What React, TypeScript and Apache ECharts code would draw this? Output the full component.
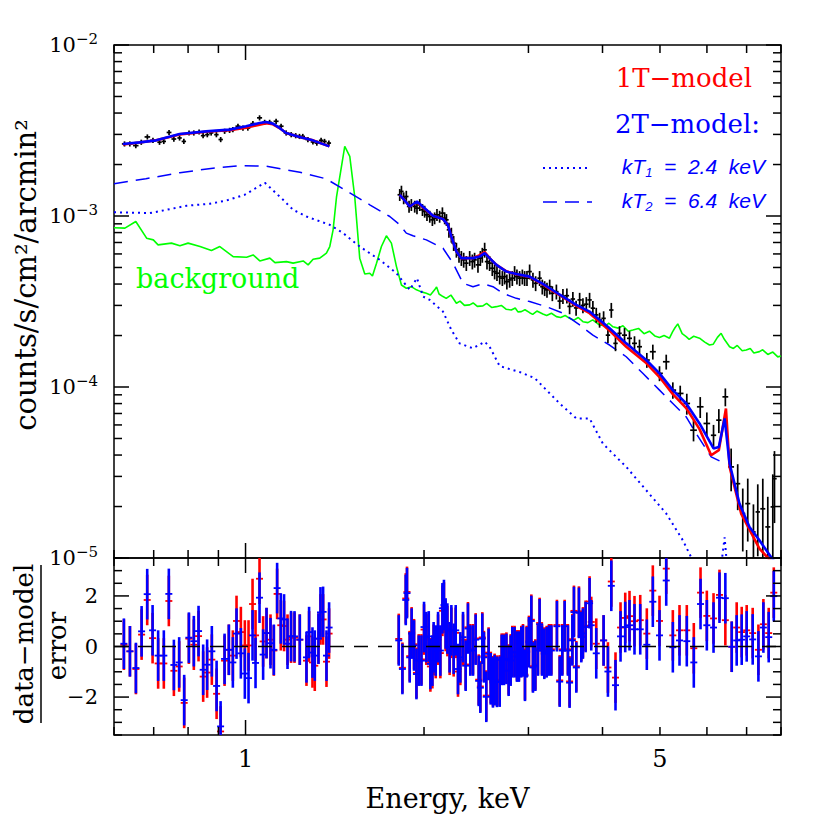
import React, { useEffect, useRef } from 'react';
import * as echarts from 'echarts';

const SERIF = '"DejaVu Serif", "Liberation Serif", serif';
const SANS = '"Liberation Sans", "DejaVu Sans", sans-serif';

const X_MIN = 0.6;
const X_MAX = 8;
const Y_MIN = 1e-5;
const Y_MAX = 1e-2;
const R_MIN = -3.5;
const R_MAX = 3.5;

// axis ticks
const xMajorTicks = [1];
const xMinorTicks = [0.6, 0.7, 0.8, 0.9, 2, 3, 4, 5, 6, 7, 8];
const xTickLabels = [1, 5];
const yMajorTicks = [1e-5, 1e-4, 1e-3, 1e-2];
const yMinorTicks = [
  2e-5, 3e-5, 4e-5, 5e-5, 6e-5, 7e-5, 8e-5, 9e-5,
  2e-4, 3e-4, 4e-4, 5e-4, 6e-4, 7e-4, 8e-4, 9e-4,
  2e-3, 3e-3, 4e-3, 5e-3, 6e-3, 7e-3, 8e-3, 9e-3,
];
const rMajorTicks = [-2, 0, 2];
const rMinorTicks = [-3.5, -3, -2.5, -1.5, -1, -0.5, 0.5, 1, 1.5, 2.5, 3, 3.5];

// spectrum data, low-energy part: [keV, counts/s/cm2/arcmin2, relative error]
const dataLow = [
  [0.625, 2.64e-3, 0.035], [0.638, 2.64e-3, 0.035], [0.653, 2.58e-3, 0.035], [0.667, 2.70e-3, 0.035],
  [0.683, 2.90e-3, 0.035], [0.698, 2.77e-3, 0.035], [0.716, 2.70e-3, 0.035], [0.728, 2.73e-3, 0.035],
  [0.743, 3.08e-3, 0.035], [0.757, 2.82e-3, 0.035], [0.774, 2.86e-3, 0.035], [0.787, 2.73e-3, 0.035],
  [0.803, 3.06e-3, 0.035], [0.818, 3.06e-3, 0.035], [0.835, 3.10e-3, 0.035], [0.848, 2.95e-3, 0.035],
  [0.862, 2.99e-3, 0.035], [0.875, 3.06e-3, 0.035], [0.893, 2.99e-3, 0.035], [0.908, 2.80e-3, 0.035],
  [0.922, 3.13e-3, 0.035], [0.940, 3.17e-3, 0.035], [0.952, 3.20e-3, 0.035], [0.971, 3.35e-3, 0.035],
  [0.990, 3.27e-3, 0.035], [1.009, 3.27e-3, 0.035], [1.029, 3.47e-3, 0.035], [1.056, 3.75e-3, 0.035],
  [1.077, 3.53e-3, 0.035], [1.098, 3.53e-3, 0.035], [1.126, 3.58e-3, 0.035], [1.148, 3.35e-3, 0.035],
  [1.171, 3.06e-3, 0.035], [1.194, 2.99e-3, 0.035], [1.215, 2.95e-3, 0.035], [1.233, 2.92e-3, 0.035],
  [1.249, 2.92e-3, 0.035], [1.274, 2.80e-3, 0.035], [1.299, 2.71e-3, 0.035], [1.319, 2.67e-3, 0.035],
  [1.341, 2.77e-3, 0.035], [1.359, 2.73e-3, 0.035], [1.382, 2.67e-3, 0.035],
];

// spectrum data, high-energy part
const dataHigh = [
  [1.820, 1.331e-3, 0.08], [1.832, 1.392e-3, 0.08], [1.848, 1.273e-3, 0.08], [1.867, 1.300e-3, 0.08],
  [1.887, 1.137e-3, 0.08], [1.904, 1.163e-3, 0.08], [1.929, 1.137e-3, 0.08], [1.946, 1.112e-3, 0.08],
  [1.967, 1.163e-3, 0.08], [1.988, 1.087e-3, 0.08], [2.005, 1.063e-3, 0.08], [2.023, 1.016e-3, 0.08],
  [2.045, 0.993e-3, 0.08], [2.066, 0.950e-3, 0.08], [2.084, 0.972e-3, 0.08], [2.103, 1.016e-3, 0.08],
  [2.125, 0.993e-3, 0.08], [2.148, 1.040e-3, 0.08], [2.167, 0.972e-3, 0.08], [2.182, 0.950e-3, 0.08],
  [2.203, 0.830e-3, 0.1], [2.224, 0.776e-3, 0.1], [2.244, 0.694e-3, 0.1], [2.268, 0.634e-3, 0.1],
  [2.291, 0.592e-3, 0.1], [2.312, 0.567e-3, 0.1], [2.333, 0.554e-3, 0.1], [2.357, 0.530e-3, 0.1],
  [2.388, 0.567e-3, 0.1], [2.413, 0.541e-3, 0.1], [2.434, 0.554e-3, 0.1], [2.466, 0.518e-3, 0.1],
  [2.489, 0.567e-3, 0.1], [2.508, 0.592e-3, 0.1], [2.531, 0.634e-3, 0.1], [2.554, 0.541e-3, 0.1],
  [2.580, 0.530e-3, 0.1], [2.607, 0.495e-3, 0.1], [2.631, 0.473e-3, 0.1], [2.655, 0.463e-3, 0.1],
  [2.683, 0.442e-3, 0.1], [2.711, 0.433e-3, 0.1], [2.735, 0.442e-3, 0.1], [2.759, 0.413e-3, 0.1],
  [2.789, 0.423e-3, 0.1], [2.818, 0.433e-3, 0.1], [2.843, 0.463e-3, 0.1], [2.869, 0.442e-3, 0.1],
  [2.899, 0.433e-3, 0.1], [2.930, 0.442e-3, 0.1], [2.956, 0.433e-3, 0.1], [2.983, 0.433e-3, 0.1],
  [3.014, 0.473e-3, 0.1], [3.053, 0.423e-3, 0.1], [3.085, 0.404e-3, 0.1], [3.133, 0.433e-3, 0.1],
  [3.166, 0.386e-3, 0.1], [3.195, 0.378e-3, 0.1], [3.224, 0.370e-3, 0.1], [3.258, 0.386e-3, 0.1],
  [3.292, 0.353e-3, 0.1], [3.344, 0.361e-3, 0.1], [3.387, 0.318e-3, 0.1], [3.430, 0.340e-3, 0.1],
  [3.483, 0.342e-3, 0.1], [3.520, 0.296e-3, 0.1], [3.565, 0.327e-3, 0.1], [3.610, 0.290e-3, 0.1],
  [3.660, 0.323e-3, 0.1], [3.707, 0.300e-3, 0.1], [3.756, 0.305e-3, 0.1], [3.804, 0.323e-3, 0.1],
  [3.853, 0.289e-3, 0.1], [3.904, 0.264e-3, 0.1], [3.955, 0.247e-3, 0.1], [4.017, 0.252e-3, 0.1],
  [4.085, 0.201e-3, 0.1], [4.139, 0.282e-3, 0.1], [4.207, 0.180e-3, 0.1], [4.273, 0.206e-3, 0.1],
  [4.357, 0.201e-3, 0.1], [4.442, 0.1926e-3, 0.1], [4.529, 0.180e-3, 0.1], [4.618, 0.172e-3, 0.1],
  [4.751, 0.1438e-3, 0.1], [4.863, 0.1608e-3, 0.1], [4.991, 0.1202e-3, 0.1], [5.123, 0.1405e-3, 0.1],
  [5.256, 0.0959e-3, 0.11], [5.409, 0.0917e-3, 0.11], [5.549, 0.0801e-3, 0.14], [5.696, 0.0559e-3, 0.14],
  [5.846, 0.0766e-3, 0.14], [5.998, 0.0612e-3, 0.16], [6.156, 0.0522e-3, 0.15], [6.284, 0.0640e-3, 0.16],
  [6.445, 0.0876e-3, 0.12], [6.592, 0.0341e-3, 0.28], [6.762, 0.0272e-3, 0.3], [6.896, 0.0182e-3, 0.4],
  [7.031, 0.0208e-3, 0.4], [7.188, 0.0142e-3, 0.45], [7.310, 0.0186e-3, 0.45], [7.454, 0.0194e-3, 0.5],
  [7.600, 0.0152e-3, 0.5], [7.749, 0.0199e-3, 0.55], [7.800, 0.0291e-3, 0.45],
];

// models, low-energy part: [keV, value]
const model1TLow = [
  [0.621, 2.62e-3], [0.663, 2.69e-3], [0.707, 2.77e-3], [0.774, 3.00e-3], [0.858, 3.11e-3],
  [0.940, 3.17e-3], [1.002, 3.28e-3], [1.056, 3.42e-3], [1.083, 3.49e-3], [1.112, 3.44e-3],
  [1.141, 3.27e-3], [1.171, 3.06e-3], [1.233, 2.90e-3], [1.298, 2.77e-3], [1.385, 2.553e-3],
];
const model2TLow = [
  [0.621, 2.637e-3], [0.663, 2.695e-3], [0.707, 2.769e-3], [0.774, 3.018e-3], [0.858, 3.126e-3],
  [0.940, 3.199e-3], [1.002, 3.345e-3], [1.056, 3.502e-3], [1.083, 3.550e-3], [1.112, 3.469e-3],
  [1.141, 3.273e-3], [1.171, 3.059e-3], [1.233, 2.899e-3], [1.298, 2.769e-3], [1.385, 2.553e-3],
];
// models, high-energy part
const model1THigh = [
  [1.820, 1.331e-3], [1.892, 1.137e-3], [1.946, 1.205e-3], [2.018, 1.080e-3], [2.071, 1.003e-3],
  [2.153, 0.959e-3], [2.194, 0.888e-3], [2.224, 0.758e-3], [2.268, 0.620e-3], [2.312, 0.567e-3],
  [2.419, 0.567e-3], [2.482, 0.590e-3], [2.531, 0.615e-3], [2.580, 0.567e-3], [2.649, 0.518e-3],
  [2.754, 0.475e-3], [2.862, 0.456e-3], [3.014, 0.440e-3], [3.173, 0.398e-3], [3.258, 0.374e-3],
  [3.430, 0.335e-3], [3.613, 0.298e-3], [3.804, 0.270e-3], [4.111, 0.214e-3], [4.386, 0.172e-3],
  [4.740, 0.138e-3], [4.991, 0.1143e-3], [5.256, 0.0908e-3], [5.536, 0.0753e-3], [5.830, 0.0567e-3],
  [6.100, 0.0399e-3], [6.284, 0.0427e-3], [6.460, 0.0749e-3], [6.552, 0.0341e-3], [6.853, 0.0182e-3],
  [7.357, 0.01134e-3], [7.647, 0.0098e-3], [8.0, 0.0075e-3],
];
const model2THigh = [
  [1.820, 1.331e-3], [1.892, 1.137e-3], [1.946, 1.216e-3], [2.018, 1.087e-3], [2.071, 1.003e-3],
  [2.153, 0.959e-3], [2.194, 0.888e-3], [2.224, 0.758e-3], [2.268, 0.620e-3], [2.312, 0.567e-3],
  [2.419, 0.567e-3], [2.482, 0.579e-3], [2.531, 0.606e-3], [2.580, 0.567e-3], [2.649, 0.518e-3],
  [2.754, 0.473e-3], [2.862, 0.458e-3], [3.014, 0.442e-3], [3.173, 0.401e-3], [3.258, 0.378e-3],
  [3.430, 0.338e-3], [3.613, 0.302e-3], [3.804, 0.276e-3], [4.111, 0.2205e-3], [4.386, 0.180e-3],
  [4.740, 0.1438e-3], [4.991, 0.1202e-3], [5.256, 0.0959e-3], [5.536, 0.0801e-3], [5.830, 0.0612e-3],
  [6.156, 0.0437e-3], [6.284, 0.0446e-3], [6.427, 0.0655e-3], [6.552, 0.0357e-3], [6.808, 0.0208e-3],
  [7.078, 0.0152e-3], [7.357, 0.0127e-3], [7.700, 0.0101e-3], [8.0, 0.0085e-3],
];

// 2T model components
const compKT1 = [
  [0.600, 1.051e-3], [0.626, 1.048e-3], [0.690, 1.040e-3], [0.736, 1.087e-3], [0.795, 1.148e-3],
  [0.871, 1.179e-3], [0.929, 1.233e-3], [0.997, 1.331e-3], [1.078, 1.565e-3], [1.157, 1.244e-3],
  [1.203, 1.087e-3], [1.267, 0.993e-3], [1.387, 0.888e-3], [1.461, 0.794e-3], [1.558, 0.663e-3],
  [1.684, 0.554e-3], [1.797, 0.463e-3], [1.892, 0.370e-3], [1.946, 0.433e-3], [1.993, 0.338e-3],
  [2.045, 0.323e-3], [2.153, 0.276e-3], [2.224, 0.2155e-3], [2.296, 0.180e-3], [2.419, 0.1683e-3],
  [2.531, 0.184e-3], [2.580, 0.172e-3], [2.683, 0.1325e-3], [2.899, 0.1223e-3], [3.073, 0.1128e-3],
  [3.387, 0.0801e-3], [3.613, 0.0655e-3], [3.804, 0.0655e-3], [4.005, 0.0467e-3], [4.386, 0.0341e-3],
  [4.740, 0.0249e-3], [5.123, 0.0182e-3], [5.464, 0.0127e-3], [5.644, 0.0101e-3], [5.830, 0.0079e-3],
  [6.250, 0.006e-3], [6.427, 0.0132e-3], [6.552, 0.006e-3],
];
const compKT2 = [
  [0.600, 1.544e-3], [0.679, 1.652e-3], [0.775, 1.791e-3], [0.881, 1.903e-3], [0.978, 1.968e-3],
  [1.082, 1.955e-3], [1.235, 1.803e-3], [1.366, 1.652e-3], [1.499, 1.367e-3], [1.620, 1.163e-3],
  [1.751, 0.993e-3], [1.820, 0.888e-3], [1.867, 0.794e-3], [1.916, 0.766e-3], [2.018, 0.725e-3],
  [2.153, 0.648e-3], [2.238, 0.530e-3], [2.327, 0.404e-3], [2.419, 0.386e-3], [2.514, 0.401e-3],
  [2.614, 0.386e-3], [2.717, 0.353e-3], [2.862, 0.330e-3], [3.014, 0.316e-3], [3.216, 0.295e-3],
  [3.430, 0.270e-3], [3.660, 0.2305e-3], [3.853, 0.201e-3], [4.111, 0.176e-3], [4.386, 0.1503e-3],
  [4.677, 0.1202e-3], [4.991, 0.0959e-3], [5.256, 0.0801e-3], [5.536, 0.0669e-3], [5.754, 0.0535e-3],
  [6.100, 0.039e-3], [6.300, 0.037e-3],
];

// background spectrum
const background = [
  [0.600, 0.853e-3], [0.626, 0.849e-3], [0.653, 0.929e-3], [0.681, 0.742e-3], [0.699, 0.725e-3],
  [0.712, 0.678e-3], [0.750, 0.694e-3], [0.775, 0.669e-3], [0.800, 0.694e-3], [0.838, 0.663e-3],
  [0.876, 0.628e-3], [0.905, 0.663e-3], [0.953, 0.579e-3], [1.004, 0.574e-3], [1.030, 0.592e-3],
  [1.057, 0.546e-3], [1.099, 0.567e-3], [1.121, 0.534e-3], [1.172, 0.541e-3], [1.203, 0.530e-3],
  [1.251, 0.546e-3], [1.275, 0.518e-3], [1.300, 0.559e-3], [1.334, 0.567e-3], [1.369, 0.606e-3],
  [1.387, 0.663e-3], [1.405, 0.830e-3], [1.424, 1.300e-3], [1.470, 2.553e-3], [1.499, 2.232e-3],
  [1.528, 1.300e-3], [1.558, 0.567e-3], [1.589, 0.458e-3], [1.620, 0.463e-3], [1.637, 0.446e-3],
  [1.663, 0.530e-3], [1.695, 0.663e-3], [1.728, 0.766e-3], [1.762, 0.694e-3], [1.797, 0.506e-3],
  [1.832, 0.395e-3], [1.867, 0.378e-3], [1.904, 0.386e-3], [1.942, 0.370e-3], [1.980, 0.360e-3],
  [2.018, 0.353e-3], [2.050, 0.345e-3], [2.084, 0.370e-3], [2.100, 0.385e-3], [2.120, 0.350e-3],
  [2.153, 0.338e-3], [2.180, 0.330e-3], [2.220, 0.345e-3], [2.268, 0.309e-3], [2.300, 0.318e-3],
  [2.340, 0.300e-3], [2.388, 0.302e-3], [2.420, 0.310e-3], [2.460, 0.296e-3], [2.514, 0.298e-3],
  [2.550, 0.308e-3], [2.600, 0.292e-3], [2.649, 0.295e-3], [2.700, 0.300e-3], [2.750, 0.285e-3],
  [2.807, 0.282e-3], [2.850, 0.290e-3], [2.880, 0.275e-3], [2.918, 0.276e-3], [2.960, 0.283e-3],
  [3.014, 0.272e-3], [3.050, 0.266e-3], [3.100, 0.278e-3], [3.173, 0.267e-3], [3.220, 0.262e-3],
  [3.280, 0.270e-3], [3.344, 0.258e-3], [3.400, 0.255e-3], [3.460, 0.262e-3], [3.520, 0.252e-3],
  [3.580, 0.246e-3], [3.640, 0.255e-3], [3.707, 0.241e-3], [3.780, 0.238e-3], [3.850, 0.247e-3],
  [3.955, 0.2305e-3], [4.050, 0.228e-3], [4.100, 0.236e-3], [4.165, 0.225e-3], [4.250, 0.221e-3],
  [4.330, 0.228e-3], [4.420, 0.212e-3], [4.500, 0.2155e-3], [4.600, 0.220e-3], [4.700, 0.205e-3],
  [4.800, 0.212e-3], [4.900, 0.199e-3], [4.991, 0.195e-3], [5.080, 0.200e-3], [5.188, 0.193e-3],
  [5.250, 0.210e-3], [5.300, 0.222e-3], [5.358, 0.234e-3], [5.450, 0.205e-3], [5.536, 0.197e-3],
  [5.600, 0.190e-3], [5.700, 0.198e-3], [5.830, 0.193e-3], [5.950, 0.183e-3], [6.060, 0.176e-3],
  [6.150, 0.178e-3], [6.250, 0.195e-3], [6.340, 0.206e-3], [6.420, 0.190e-3], [6.552, 0.172e-3],
  [6.650, 0.168e-3], [6.750, 0.175e-3], [6.880, 0.163e-3], [6.990, 0.1645e-3], [7.100, 0.168e-3],
  [7.200, 0.158e-3], [7.357, 0.161e-3], [7.450, 0.165e-3], [7.600, 0.155e-3], [7.750, 0.160e-3],
  [7.900, 0.150e-3], [8.000, 0.152e-3],
];

// residuals (data-model)/error
const residualE = [
  0.6235, 0.6383, 0.6533, 0.6679, 0.6826, 0.6970, 0.7122, 0.7281, 0.7424, 0.7571,
  0.7728, 0.7880, 0.8025, 0.8181, 0.8332, 0.8483, 0.8614, 0.8773, 0.8937, 0.9077,
  0.9218, 0.9372, 0.9519, 0.9656, 0.9820, 0.9973, 1.0117, 1.0276, 1.0396, 1.0558,
  1.0707, 1.0849, 1.1018, 1.1161, 1.1305, 1.1467, 1.1614, 1.1771, 1.1934, 1.2095,
  1.2345, 1.2670, 1.2799, 1.2968, 1.3085, 1.3274, 1.3378, 1.3515, 1.3694, 1.3833,
  1.813, 1.839, 1.863, 1.872, 1.892, 1.906, 1.924, 1.942, 1.959, 1.980,
  2.000, 2.018, 2.037, 2.050, 2.066, 2.076, 2.093, 2.112, 2.131, 2.148,
  2.161, 2.175, 2.190, 2.209, 2.224, 2.244, 2.262, 2.282, 2.303, 2.327,
  2.351, 2.372, 2.394, 2.419, 2.444, 2.473, 2.489, 2.508, 2.524, 2.547,
  2.570, 2.591, 2.614, 2.631, 2.655, 2.683, 2.704, 2.728, 2.754, 2.778,
  2.800, 2.818, 2.843, 2.869, 2.891, 2.918, 2.937, 2.960, 2.979, 3.006,
  3.034, 3.053, 3.082, 3.113, 3.133, 3.162, 3.191, 3.220, 3.249, 3.279,
  3.351, 3.387, 3.422, 3.453, 3.497, 3.520, 3.558, 3.580, 3.613, 3.650,
  3.684, 3.707, 3.746, 3.804,
  3.829, 3.904, 4.017, 4.085, 4.139, 4.207, 4.290, 4.369, 4.442, 4.529,
  4.631, 4.751, 4.863, 4.991, 5.123, 5.256, 5.394, 5.549, 5.702, 5.853,
  5.998, 6.156, 6.300, 6.445, 6.607, 6.735, 6.868, 7.002, 7.167, 7.328,
  7.471, 7.627, 7.779,
];
const residual2T = [
  0.11, -0.19, -0.85, 0.60, 2.07, 0.64, -0.36, -0.36, 2.08, -0.73,
  -0.63, -2.12, 0.35, 0.21, 0.61, -0.92, -0.72, -0.19, -1.56, -3.16,
  -0.49, -0.13, -0.63, 0.51, -0.27, -1.07, -1.25, 0.44, -0.65, 1.93,
  -0.32, 0.53, 0.13, -0.13, 2.31, 1.11, 1.07, 0.11, 0.41, 0.40,
  0.27, -0.43, 0.57, -0.24, -0.36, 0.31, 1.35, 1.37, -0.36, 0.75,
  0.24, -0.89, 1.84, 2.11, -0.43, 0.51, 0.04, -1.09, -0.56, -0.56,
  0.77, 0.37, 0.40, -0.69, -0.56, -0.03, -0.16, 0.37, -0.16, 1.51,
  1.64, 0.91, 0.71, -0.03, 0.64, -0.09, 0.64, -0.89, -0.43, 0.37,
  -0.76, 0.71, -0.16, -0.16, 0.27, -1.36, -1.63, 0.31, -0.43, -1.99,
  -0.29, -1.30, -1.42, -1.33, -1.40, -1.39, -0.53, -0.53, -0.49, -0.96,
  -0.56, -0.23, -0.23, -0.40, -0.40, -0.23, -0.16, -1.16, -0.23, 0.17,
  1.01, -0.83, -0.76, -0.16, 0.88, -0.16, -0.29, -0.23, -0.16, -0.16,
  0.80, -1.39, -0.16, 0.80, -0.16, -1.43, 0.24, 1.36, -0.83, 1.33,
  0.37, 0.51, 0.77, 1.71,
  0.84, -0.27, 0.24, -0.99, 2.40, -1.53, 0.40, 0.77, 0.84, 0.68,
  0.68, 0.07, 1.77, 0.44, 2.61, -0.03, 0.24, 0.21, -0.63, 1.68,
  0.84, 0.75, 1.93, 1.91, -0.01, 0.24, 0.27, 0.40, 0.28, -0.39,
  0.75, 0.37, 1.99,
];
const residual1T = [
  0.07, -0.19, -0.89, 0.47, 1.84, 0.33, -0.67, -0.67, 1.80, -0.96,
  -0.79, -2.23, 0.31, 0.07, 0.41, -1.19, -1.03, -0.52, -1.87, -3.36,
  -0.56, -0.13, -0.36, 1.01, 0.57, 0.04, 0.04, 1.68, 0.44, 2.68,
  0.20, 0.53, 0.27, -0.16, 2.08, 0.84, 0.81, 0.27, 0.35, 0.35,
  0.27, -0.56, 0.40, -0.63, -0.76, 0.31, 1.07, 1.07, -0.60, 0.51,
  0.30, -0.84, 1.90, 2.16, -0.38, 0.56, 0.09, -1.04, -0.51, -0.51,
  0.67, 0.27, 0.30, -0.79, -0.66, -0.13, -0.26, 0.27, -0.26, 1.41,
  1.54, 0.81, 0.61, -0.13, 0.54, -0.19, 0.54, -0.99, -0.53, 0.27,
  -0.71, 0.76, -0.11, -0.11, 0.32, -1.31, -1.58, 0.36, -0.38, -1.94,
  -0.24, -1.25, -1.37, -1.28, -1.35, -1.34, -0.48, -0.48, -0.44, -0.91,
  -0.51, -0.18, -0.18, -0.35, -0.35, -0.18, -0.11, -1.11, -0.18, 0.22,
  1.06, -0.78, -0.71, -0.11, 0.93, -0.11, -0.24, -0.18, -0.11, -0.11,
  0.85, -1.34, -0.11, 0.85, -0.11, -1.38, 0.29, 1.41, -0.78, 1.38,
  0.42, 0.56, 0.82, 1.78,
  0.97, 0.11, 0.24, -0.83, 2.57, -1.23, 0.75, 1.13, 1.20, 1.00,
  1.04, 0.51, 2.21, 1.01, 3.08, 0.44, 0.64, 0.64, -0.07, 2.13,
  1.21, 1.11, 2.04, 1.04, -0.01, 0.75, 0.57, 0.64, 0.53, -0.13,
  0.88, 0.53, 2.13,
];

const RED = '#ff0000';
const BLUE = '#0000ff';
const GREEN = '#00ff00';

function tickSeries(gi: number, yLo: number, yHi: number, yMaj: number[], yMin: number[]) {
  return {
    type: 'custom',
    xAxisIndex: gi,
    yAxisIndex: gi,
    silent: true,
    clip: false,
    z: 20,
    data: [[1, gi === 0 ? 1e-3 : 0]],
    renderItem: (params: any, api: any) => {
      const bl = api.coord([X_MIN, yLo]);
      const tr = api.coord([X_MAX, yHi]);
      const ch: any[] = [];
      const add = (x1: number, y1: number, x2: number, y2: number) =>
        ch.push({ type: 'line', shape: { x1, y1, x2, y2 }, style: { stroke: '#000', lineWidth: 1.5 } });
      const MAJ = 15;
      const MIN = 8;
      xMajorTicks.forEach((t) => {
        const x = api.coord([t, yLo])[0];
        add(x, bl[1], x, bl[1] - MAJ);
        add(x, tr[1], x, tr[1] + MAJ);
      });
      xMinorTicks.forEach((t) => {
        const x = api.coord([t, yLo])[0];
        add(x, bl[1], x, bl[1] - MIN);
        add(x, tr[1], x, tr[1] + MIN);
      });
      yMaj.forEach((t) => {
        const y = api.coord([X_MIN, t])[1];
        add(bl[0], y, bl[0] + MAJ, y);
        add(tr[0], y, tr[0] - MAJ, y);
      });
      yMin.forEach((t) => {
        const y = api.coord([X_MIN, t])[1];
        add(bl[0], y, bl[0] + MIN, y);
        add(tr[0], y, tr[0] - MIN, y);
      });
      return { type: 'group', children: ch };
    },
  };
}

function crossSeries(points: number[][]) {
  return {
    type: 'custom',
    xAxisIndex: 0,
    yAxisIndex: 0,
    clip: true,
    z: 3,
    data: points,
    renderItem: (params: any, api: any) => {
      const i = params.dataIndex;
      const e = api.value(0);
      const v = api.value(1);
      const r = api.value(2);
      const c = api.coord([e, v]);
      const hi = api.coord([e, v * (1 + r)]);
      const lo = api.coord([e, v * (1 - r)]);
      const d: number[] = [];
      if (i > 0) d.push(Math.abs(c[0] - api.coord([points[i - 1][0], v])[0]));
      if (i < points.length - 1) d.push(Math.abs(api.coord([points[i + 1][0], v])[0] - c[0]));
      const hw = Math.max(2.2, Math.min(5, Math.min(...d) / 2));
      return {
        type: 'group',
        children: [
          { type: 'line', shape: { x1: c[0], y1: hi[1], x2: c[0], y2: lo[1] }, style: { stroke: '#000', lineWidth: 1.7 } },
          { type: 'line', shape: { x1: c[0] - hw, y1: c[1], x2: c[0] + hw, y2: c[1] }, style: { stroke: '#000', lineWidth: 1.7 } },
        ],
      };
    },
  };
}

function residualSeries(values: number[], color: string, z: number) {
  return {
    type: 'custom',
    xAxisIndex: 1,
    yAxisIndex: 1,
    clip: true,
    z,
    data: residualE.map((e, i) => [e, values[i]]),
    renderItem: (params: any, api: any) => {
      const e = api.value(0);
      const r = api.value(1);
      const c = api.coord([e, r]);
      const hi = api.coord([e, r + 1]);
      const lo = api.coord([e, r - 1]);
      return {
        type: 'group',
        children: [
          { type: 'line', shape: { x1: c[0], y1: hi[1], x2: c[0], y2: lo[1] }, style: { stroke: color, lineWidth: 2.6 } },
          { type: 'line', shape: { x1: c[0] - 3.5, y1: c[1], x2: c[0] + 3.5, y2: c[1] }, style: { stroke: color, lineWidth: 1.8 } },
        ],
      };
    },
  };
}

function lineSeries(data: number[][], color: string, width: number, type: any, z: number) {
  return {
    type: 'line',
    xAxisIndex: 0,
    yAxisIndex: 0,
    data,
    showSymbol: false,
    symbol: 'none',
    clip: true,
    z,
    silent: true,
    lineStyle: { color, width, type },
  };
}

function buildOption() {
  const baseAxis = {
    axisLine: { show: false },
    axisTick: { show: false },
    splitLine: { show: false },
  };
  const kTRich = {
    i: { fontSize: 21, fontStyle: 'italic', fontFamily: SANS, fill: BLUE, color: BLUE, lineHeight: 26 },
    s: { fontSize: 13, fontStyle: 'italic', fontFamily: SANS, fill: BLUE, color: BLUE, lineHeight: 12, verticalAlign: 'bottom' },
  };
  return {
    animation: false,
    backgroundColor: '#ffffff',
    grid: [
      { left: 114, top: 45, width: 667, height: 513, show: true, borderColor: '#000', borderWidth: 1.5, backgroundColor: 'transparent' },
      { left: 114, top: 558, width: 667, height: 177, show: true, borderColor: '#000', borderWidth: 1.5, backgroundColor: 'transparent' },
    ],
    xAxis: [
      { ...baseAxis, type: 'log', gridIndex: 0, min: X_MIN, max: X_MAX, logBase: 10, axisLabel: { show: false } },
      {
        ...baseAxis,
        type: 'log',
        gridIndex: 1,
        min: X_MIN,
        max: X_MAX,
        logBase: 10,
        axisLabel: {
          customValues: xTickLabels,
          fontSize: 24,
          fontFamily: SERIF,
          color: '#000',
          margin: 12,
          formatter: (v: number) => String(Math.round(v * 100) / 100),
        },
        name: 'Energy, keV',
        nameLocation: 'middle',
        nameGap: 50,
        nameTextStyle: { fontSize: 27, fontFamily: SERIF, color: '#000' },
      },
    ],
    yAxis: [
      {
        ...baseAxis,
        type: 'log',
        gridIndex: 0,
        min: Y_MIN,
        max: Y_MAX,
        logBase: 10,
        axisLabel: {
          margin: 16,
          formatter: (v: number) => `{a|10}{b|−${Math.round(-Math.log10(v))}}`,
          rich: {
            a: { fontSize: 21, fontFamily: SERIF, color: '#000', lineHeight: 28 },
            b: { fontSize: 15, fontFamily: SERIF, color: '#000', lineHeight: 14, verticalAlign: 'top' },
          },
        },
      },
      {
        ...baseAxis,
        type: 'value',
        gridIndex: 1,
        min: R_MIN,
        max: R_MAX,
        interval: 0.5,
        axisLabel: {
          margin: 16,
          fontSize: 21,
          fontFamily: SERIF,
          color: '#000',
          formatter: (v: number) => {
            const r = Math.round(v);
            if (Math.abs(v - r) > 1e-6 || r % 2 !== 0 || Math.abs(r) > 3) return '';
            return r < 0 ? '−' + -r : String(r);
          },
        },
      },
    ],
    series: [
      lineSeries(background, GREEN, 1.6, 'solid', 2),
      lineSeries(compKT2, BLUE, 1.5, [14, 8], 2),
      lineSeries(compKT1, BLUE, 2, [2, 4], 2),
      crossSeries(dataLow),
      crossSeries(dataHigh),
      lineSeries(model1TLow, RED, 2.6, 'solid', 4),
      lineSeries(model1THigh, RED, 2.6, 'solid', 4),
      lineSeries(model2TLow, BLUE, 2.6, 'solid', 5),
      lineSeries(model2THigh, BLUE, 2.6, 'solid', 5),
      residualSeries(residual1T, RED, 3),
      residualSeries(residual2T, BLUE, 4),
      {
        type: 'line',
        xAxisIndex: 1,
        yAxisIndex: 1,
        data: [[X_MIN, 0], [X_MAX, 0]],
        symbol: 'none',
        silent: true,
        z: 6,
        lineStyle: { color: '#000', width: 1.5, type: [14, 10] },
      },
      tickSeries(0, Y_MIN, Y_MAX, yMajorTicks, yMinorTicks),
      tickSeries(1, R_MIN, R_MAX, rMajorTicks, rMinorTicks),
    ],
    graphic: [
      {
        type: 'text',
        x: 26,
        y: 275,
        rotation: Math.PI / 2,
        style: { text: 'counts/s/cm²/arcmin²', fill: '#000', font: `29px ${SERIF}`, align: 'center', verticalAlign: 'middle', textAlign: 'center', textVerticalAlign: 'middle' },
      },
      {
        type: 'text',
        x: 24,
        y: 644,
        rotation: Math.PI / 2,
        style: { text: 'data−model', fill: '#000', font: `26px ${SERIF}`, align: 'center', verticalAlign: 'middle', textAlign: 'center', textVerticalAlign: 'middle' },
      },
      { type: 'line', shape: { x1: 41, y1: 565, x2: 41, y2: 723 }, style: { stroke: '#000', lineWidth: 1.5 } },
      {
        type: 'text',
        x: 57,
        y: 646,
        rotation: Math.PI / 2,
        style: { text: 'error', fill: '#000', font: `26px ${SERIF}`, align: 'center', verticalAlign: 'middle', textAlign: 'center', textVerticalAlign: 'middle' },
      },
      {
        type: 'text',
        x: 136,
        y: 278,
        style: { text: 'background', fill: GREEN, font: `27px ${SERIF}`, align: 'left', verticalAlign: 'middle', textAlign: 'left', textVerticalAlign: 'middle' },
      },
      {
        type: 'text',
        x: 752,
        y: 78,
        style: { text: '1T−model', fill: RED, font: `26px ${SERIF}`, align: 'right', verticalAlign: 'middle', textAlign: 'right', textVerticalAlign: 'middle' },
      },
      {
        type: 'text',
        x: 760,
        y: 124,
        style: { text: '2T−model:', fill: BLUE, font: `26px ${SERIF}`, align: 'right', verticalAlign: 'middle', textAlign: 'right', textVerticalAlign: 'middle' },
      },
      { type: 'line', shape: { x1: 543, y1: 168, x2: 588, y2: 168 }, style: { stroke: BLUE, lineWidth: 2, lineDash: [2, 4] } },
      { type: 'line', shape: { x1: 543, y1: 202, x2: 592, y2: 202 }, style: { stroke: BLUE, lineWidth: 1.5, lineDash: [14, 8] } },
      {
        type: 'text',
        x: 765,
        y: 166,
        style: {
          text: '{i|kT}{s|1}{i|  =  2.4  keV}',
          align: 'right',
          verticalAlign: 'middle',
          textAlign: 'right',
          textVerticalAlign: 'middle',
          rich: kTRich,
        },
      },
      {
        type: 'text',
        x: 765,
        y: 200,
        style: {
          text: '{i|kT}{s|2}{i|  =  6.4  keV}',
          align: 'right',
          verticalAlign: 'middle',
          textAlign: 'right',
          textVerticalAlign: 'middle',
          rich: kTRich,
        },
      },
    ],
  };
}

export default function App() {
  const ref = useRef<HTMLDivElement>(null);
  useEffect(() => {
    if (!ref.current) return;
    const chart = echarts.init(ref.current, null, { renderer: 'svg' });
    chart.setOption(buildOption() as any);
    return () => chart.dispose();
  }, []);
  return <div ref={ref} style={{ position: 'absolute', left: 0, top: 0, width: 822, height: 822, background: '#fff' }} />;
}
